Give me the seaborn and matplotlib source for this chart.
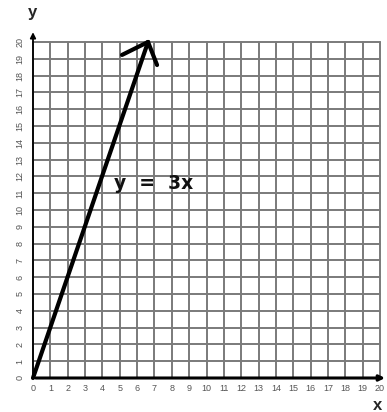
import matplotlib
matplotlib.use("Agg")
import matplotlib.pyplot as plt
import seaborn as sns
import pandas as pd

# ---------------------------------------------------------------------------
# DONNEES
# ---------------------------------------------------------------------------
ticks = list(range(0, 21))
line_x = [0, 6.63]
line_y = [0, 20]
head_left_x = [5.13, 6.63]
head_left_y = [19.23, 20]
head_right_x = [6.63, 7.15]
head_right_y = [20, 18.63]
equation = "y  =  3x"

sns.set_style("white")
plt.rcParams["font.family"] = ["Liberation Sans", "DejaVu Sans"]

fig = plt.figure(figsize=(3.87, 4.12), dpi=100)
ax = fig.add_axes([33 / 387, 34 / 412, 347 / 387, 336 / 412])

# grille
for t in ticks:
    ax.axvline(t, color="#7a7a7a", lw=1.4, zorder=1)
    ax.axhline(t, color="#7a7a7a", lw=1.4, zorder=1)

# axes avec fleches
ax.annotate("", xy=(0, 20.75), xytext=(0, 0),
            arrowprops=dict(arrowstyle="-|>", color="black", lw=1.3,
                            mutation_scale=8), annotation_clip=False, zorder=3)
ax.annotate("", xy=(20.45, 0), xytext=(0, 0),
            arrowprops=dict(arrowstyle="-|>", color="black", lw=2.2,
                            mutation_scale=8), annotation_clip=False, zorder=3)

# droite y = 3x
df = pd.DataFrame({"x": line_x, "y": line_y})
sns.lineplot(data=df, x="x", y="y", color="black", lw=3.0, ax=ax,
             zorder=4, solid_capstyle="round")
sns.lineplot(x=head_left_x, y=head_left_y, color="black", lw=3.0, ax=ax,
             zorder=4, solid_capstyle="round")
sns.lineplot(x=head_right_x, y=head_right_y, color="black", lw=3.0, ax=ax,
             zorder=4, solid_capstyle="round")
for l in ax.lines:
    l.set_clip_on(False)

ax.text(4.65, 11.6, equation, fontsize=13.5, fontweight="bold",
        family="DejaVu Sans", color="#111111", va="center", ha="left",
        zorder=5)

ax.set_xlim(0, 20)
ax.set_ylim(0, 20)
ax.set_xticks(ticks)
ax.set_yticks(ticks)
ax.tick_params(axis="both", length=0, labelsize=6.5, labelcolor="#555555")
ax.tick_params(axis="x", pad=4)
ax.tick_params(axis="y", pad=6)
for lab in ax.get_yticklabels():
    lab.set_rotation(90)
    lab.set_va("center")
ax.set_xlabel("")
ax.set_ylabel("")
for s in ax.spines.values():
    s.set_visible(False)

fig.text(32 / 387, 1 - 12 / 412, "y", fontsize=12, fontweight="bold",
         ha="center", va="center")
fig.text(378 / 387, 1 - 406 / 412, "x", fontsize=12, fontweight="bold",
         ha="center", va="center")

fig.savefig("out.png", dpi=100)
plt.close(fig)
